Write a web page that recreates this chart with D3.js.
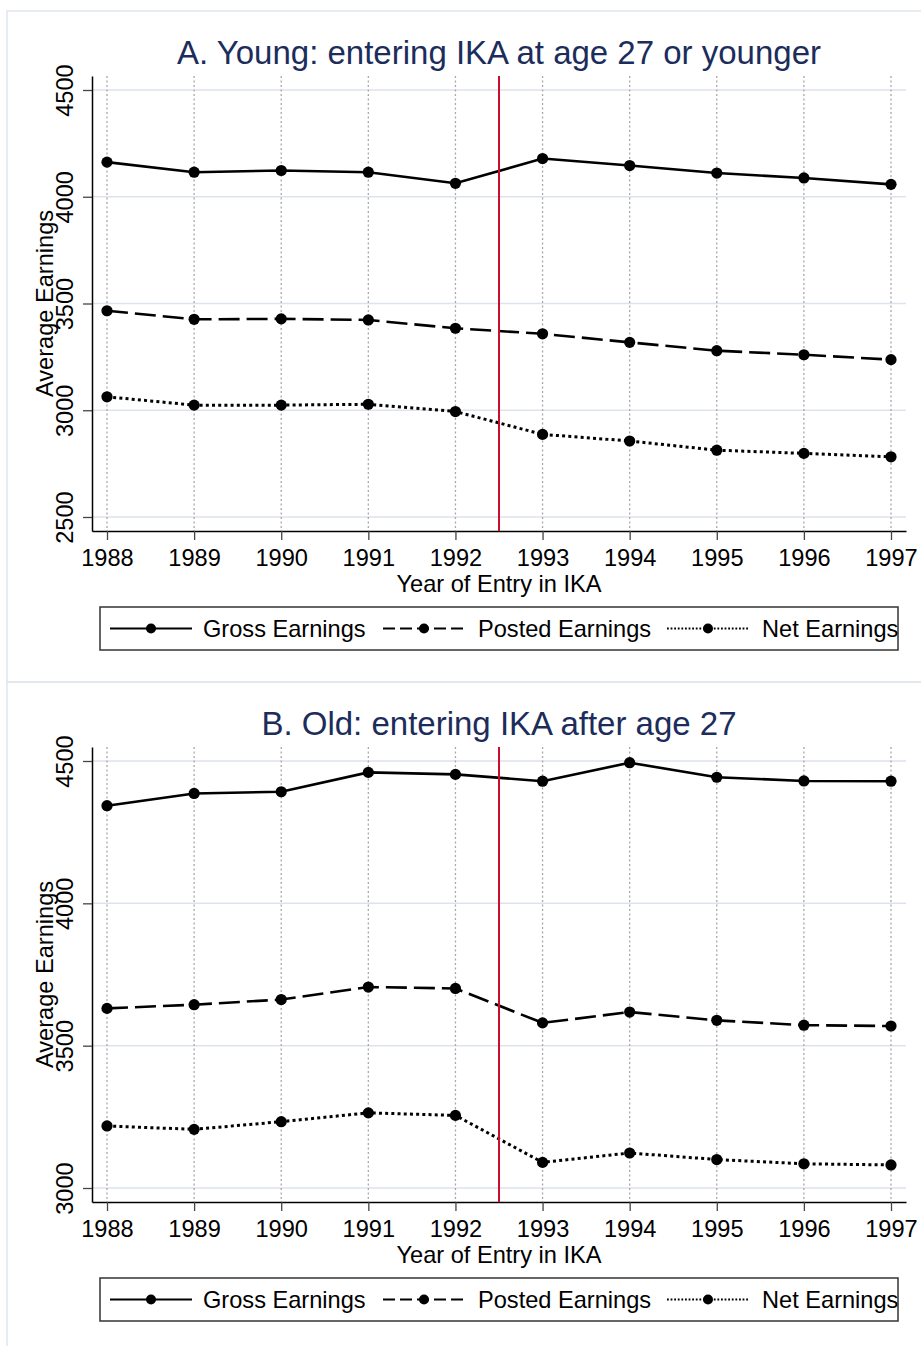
<!DOCTYPE html>
<html>
<head>
<meta charset="utf-8">
<script src="https://cdn.jsdelivr.net/npm/d3@7"></script>
<style>
    body { margin: 0; background: #fff; }
    svg text { font-family: "Liberation Sans", Arial, sans-serif; }
</style>
</head>
<body>
<div id="chart"></div>
<script>
const years = [1988, 1989, 1990, 1991, 1992, 1993, 1994, 1995, 1996, 1997];

// Panel A: entering at 27 or younger
const youngGross = [4162, 4115, 4123, 4115, 4063, 4179, 4146, 4111, 4088, 4058];
const youngPosted = [3466, 3426, 3428, 3423, 3384, 3358, 3318, 3279, 3260, 3237];
const youngNet = [3063, 3024, 3024, 3028, 2994, 2887, 2856, 2813, 2798, 2782];

// Panel B: entering after 27
const oldGross = [4343, 4386, 4392, 4460, 4453, 4429, 4494, 4443, 4430, 4429];
const oldPosted = [3631, 3644, 3662, 3706, 3701, 3580, 3618, 3589, 3572, 3569];
const oldNet = [3218, 3206, 3233, 3264, 3255, 3090, 3123, 3100, 3085, 3081];

const seriesNames = ["Gross Earnings", "Posted Earnings", "Net Earnings"];
const yTicksA = [2500, 3000, 3500, 4000, 4500];
const yTicksB = [3000, 3500, 4000, 4500];
const reformYear = 1992.5;

document.addEventListener("DOMContentLoaded", function () {
    const W = 921, H = 1346;
    const svg = d3.select("#chart").append("svg")
        .attr("width", W)
        .attr("height", H);

    // line styles per series
    const dashes = [null, "21,7", "3,3.2"];
    const fs = "23.6px";

    // shared x scale (Stata pads the range a bit past the end years)
    const pad = 15 / 87.1;
    const x = d3.scaleLinear()
        .domain([1988 - pad, 1997 + pad])
        .range([92, 906]);

    function drawPanel(p) {
        const g = svg.append("g");

        // panel frame
        g.append("rect")
            .attr("x", 7).attr("y", p.frameTop)
            .attr("width", 940).attr("height", p.frameH)
            .attr("fill", "none")
            .attr("stroke", "#dfe5ee")
            .attr("stroke-width", 1.5);

        const y = d3.scaleLinear().domain(p.domain).range([p.bottom, p.top]);

        // horizontal grid
        g.selectAll(".hgrid").data(p.ticks).enter().append("line")
            .attr("x1", 92).attr("x2", 906)
            .attr("y1", d => y(d)).attr("y2", d => y(d))
            .attr("stroke", "#dde3ee").attr("stroke-width", 1.5);

        // vertical dotted grid
        g.selectAll(".vgrid").data(years).enter().append("line")
            .attr("x1", d => x(d)).attr("x2", d => x(d))
            .attr("y1", p.top).attr("y2", p.bottom)
            .attr("stroke", "#a8a8a8").attr("stroke-width", 1.3)
            .attr("stroke-dasharray", "2,2.5");

        // y axis
        const yAxis = g.append("g")
            .attr("transform", "translate(92,0)")
            .call(d3.axisLeft(y).tickValues(p.ticks).tickSize(9).tickSizeOuter(0).tickFormat(d3.format("d")));
        yAxis.select(".domain").attr("stroke", "#000").attr("stroke-width", 1.5);
        yAxis.selectAll(".tick line").attr("stroke", "#444").attr("stroke-width", 1.3);
        yAxis.selectAll(".tick text")
            .attr("x", 0).attr("y", 0).attr("dy", null)
            .attr("text-anchor", "middle")
            .attr("transform", "translate(-19,0) rotate(-90)")
            .style("font-size", fs).attr("fill", "#000");

        // x axis
        const xAxis = g.append("g")
            .attr("transform", `translate(0,${p.bottom})`)
            .call(d3.axisBottom(x).tickValues(years).tickSize(9).tickSizeOuter(0).tickFormat(d3.format("d")));
        xAxis.select(".domain").attr("stroke", "#000").attr("stroke-width", 1.5);
        xAxis.selectAll(".tick line").attr("stroke", "#444").attr("stroke-width", 1.3);
        xAxis.selectAll(".tick text")
            .attr("y", 35).attr("dy", null)
            .style("font-size", fs).attr("fill", "#000");

        // axis titles
        g.append("text")
            .attr("x", 499).attr("y", p.bottom + 61)
            .attr("text-anchor", "middle")
            .style("font-size", fs)
            .text("Year of Entry in IKA");
        g.append("text")
            .attr("transform", `translate(53,${(p.top + p.bottom) / 2}) rotate(-90)`)
            .attr("text-anchor", "middle")
            .style("font-size", fs)
            .text("Average Earnings");

        // title
        g.append("text")
            .attr("x", 499).attr("y", p.titleY)
            .attr("text-anchor", "middle")
            .style("font-size", "33px")
            .attr("fill", "#1c2d5b")
            .text(p.title);

        // series
        const line = d3.line().x((d, i) => x(years[i])).y(d => y(d));
        p.series.forEach((vals, k) => {
            g.append("path")
                .datum(vals)
                .attr("d", line)
                .attr("fill", "none")
                .attr("stroke", "#000")
                .attr("stroke-width", k === 2 ? 3 : 2.6)
                .attr("stroke-dasharray", dashes[k]);
            g.selectAll(`.m${k}`).data(vals).enter().append("circle")
                .attr("cx", (d, i) => x(years[i]))
                .attr("cy", d => y(d))
                .attr("r", 5.6)
                .attr("fill", "#000");
        });

        // reform line
        g.append("line")
            .attr("x1", x(reformYear)).attr("x2", x(reformYear))
            .attr("y1", p.top).attr("y2", p.bottom)
            .attr("stroke", "#c8102e").attr("stroke-width", 2);

        // legend
        const ly = p.legendTop + 21.5;
        g.append("rect")
            .attr("x", 100).attr("y", p.legendTop)
            .attr("width", 798).attr("height", 43)
            .attr("fill", "#fff")
            .attr("stroke", "#333").attr("stroke-width", 1.5);
        const keys = [
            { x1: 110, x2: 192, tx: 203 },
            { x1: 383, x2: 465, tx: 478 },
            { x1: 667, x2: 749, tx: 762 }
        ];
        keys.forEach((kk, k) => {
            g.append("line")
                .attr("x1", kk.x1).attr("x2", kk.x2)
                .attr("y1", ly).attr("y2", ly)
                .attr("stroke", "#000")
                .attr("stroke-width", k === 2 ? 1.8 : 2)
                .attr("stroke-dasharray", k === 1 ? "12,5" : (k === 2 ? "1.8,1.8" : null));
            g.append("circle")
                .attr("cx", (kk.x1 + kk.x2) / 2).attr("cy", ly)
                .attr("r", 5).attr("fill", "#000");
            g.append("text")
                .attr("x", kk.tx).attr("y", ly + 8.5)
                .style("font-size", fs)
                .text(seriesNames[k]);
        });
    }

    drawPanel({
        frameTop: 11, frameH: 671,
        top: 76, bottom: 531,
        domain: [2500 - 14 / 0.2135, 4500 + 14 / 0.2135],
        ticks: yTicksA,
        titleY: 64,
        title: "A. Young: entering IKA at age 27 or younger",
        series: [youngGross, youngPosted, youngNet],
        legendTop: 607
    });

    drawPanel({
        frameTop: 682, frameH: 680,
        top: 747, bottom: 1202,
        domain: [3000 - 14 / 0.28467, 4500 + 14 / 0.28467],
        ticks: yTicksB,
        titleY: 735,
        title: "B. Old: entering IKA after age 27",
        series: [oldGross, oldPosted, oldNet],
        legendTop: 1278
    });
});
</script>
</body>
</html>
